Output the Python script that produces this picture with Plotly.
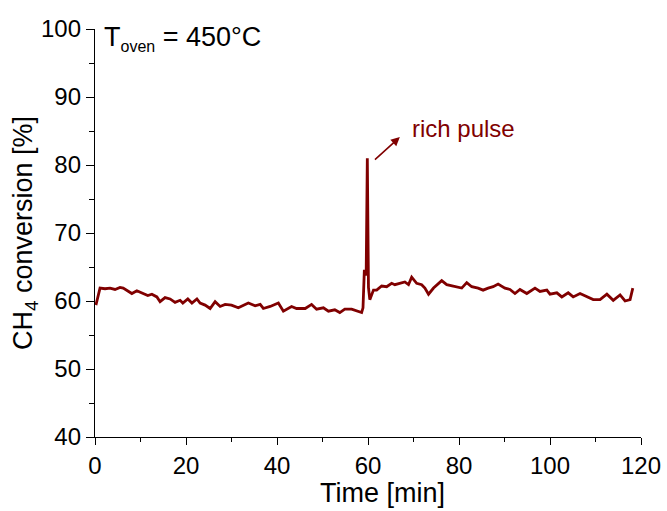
import plotly.graph_objects as go

# Time [min]
time_min = [0.2, 1.1, 2.2, 3.3, 4.4, 5.5, 6.2, 8.1, 9.2, 10.5, 11.6, 12.5, 13.6, 14.3, 15.4,
            16.5, 17.6, 18.7, 19.3, 20.4, 21.3, 22.4, 23.1, 24.2, 25.3, 26.4, 27.5, 28.6,
            30.0, 31.5, 33.7, 35.2, 36.3, 37.0, 38.5, 40.3, 41.4, 43.2, 44.3, 46.2, 47.6,
            48.7, 50.2, 51.3, 52.7, 53.8, 54.9, 56.4, 57.9, 58.6, 58.9, 59.2, 59.45, 59.6,
            59.85, 60.1, 60.4, 61.2, 61.9, 63.0, 64.1, 65.2, 65.9, 67.0, 68.1, 68.9, 69.6,
            70.7, 71.8, 72.5, 73.3, 74.4, 75.5, 76.2, 77.3, 78.4, 79.5, 80.6, 81.7, 82.8,
            84.2, 85.3, 86.4, 87.5, 88.6, 90.1, 91.2, 92.3, 93.4, 94.9, 96.7, 97.8, 99.3,
            100.0, 101.5, 102.6, 104.0, 105.1, 106.6, 108.1, 109.5, 111.0, 112.5, 113.9,
            115.4, 116.5, 117.6, 118.2]

# CH4 conversion [%]
conversion = [59.4, 61.9, 61.8, 61.9, 61.7, 62.0, 61.9, 61.1, 61.5, 61.1, 60.8, 61.0, 60.6, 59.9, 60.5,
              60.3, 59.8, 60.1, 59.7, 60.3, 59.7, 60.3, 59.7, 59.4, 58.9, 59.9, 59.2, 59.5,
              59.4, 59.0, 59.7, 59.3, 59.5, 58.9, 59.2, 59.7, 58.5, 59.2, 58.9, 58.9, 59.5,
              58.8, 59.0, 58.5, 58.7, 58.3, 58.8, 58.8, 58.5, 58.3, 59.0, 64.6, 63.8, 64.0,
              81.0, 62.0, 60.2, 61.6, 61.6, 62.2, 62.1, 62.6, 62.4, 62.6, 62.8, 62.4, 63.5,
              62.6, 62.4, 61.9, 61.0, 61.9, 62.6, 63.0, 62.4, 62.2, 62.1, 61.9, 62.7, 62.1,
              61.9, 61.6, 61.9, 62.1, 62.5, 61.9, 61.7, 61.1, 61.7, 61.1, 61.9, 61.4, 61.6,
              61.0, 61.2, 60.6, 61.2, 60.6, 61.1, 60.6, 60.2, 60.2, 61.0, 60.1,
              60.9, 60.0, 60.2, 61.9]

x_ticks = [0, 20, 40, 60, 80, 100, 120]
y_ticks = [40, 50, 60, 70, 80, 90, 100]

color = "#800000"
font = "Liberation Sans, Arial, sans-serif"

fig = go.Figure()
fig.add_trace(go.Scatter(x=time_min, y=conversion, mode="lines",
                         line=dict(color=color, width=2.8), showlegend=False))

axis_common = dict(showgrid=False, zeroline=False, showline=True, linecolor="black",
                   linewidth=1.3, ticks="outside", tickcolor="black", tickwidth=1.3,
                   tickfont=dict(family=font, size=24, color="black"),
                   mirror=False, automargin=False)

fig.update_xaxes(range=[0, 120], tickvals=x_ticks, ticklen=7,
                 minor=dict(dtick=10, tick0=0, ticks="outside", ticklen=4,
                            tickcolor="black", tickwidth=1.3),
                 **axis_common)
fig.update_yaxes(range=[40, 100], tickvals=y_ticks, ticklen=8,
                 minor=dict(dtick=5, tick0=40, ticks="outside", ticklen=5,
                            tickcolor="black", tickwidth=1.3),
                 title=dict(text="CH<sub>4</sub> conversion [%]",
                            font=dict(family=font, size=27, color="black"), standoff=0),
                 **axis_common)

# x-axis title (placed slightly right of centre, as in the reference)
fig.add_annotation(x=0.526, y=-0.137, xref="paper", yref="paper", xanchor="center",
                   yanchor="middle", text="Time [min]", showarrow=False,
                   font=dict(family=font, size=27, color="black"))

fig.add_annotation(x=1.5, y=98.6, xref="x", yref="y", xanchor="left", yanchor="middle",
                   text="T<sub><span style='font-size:16px'>oven</span></sub> = 450°C",
                   showarrow=False, font=dict(family=font, size=27, color="black"))
fig.add_annotation(x=80.9, y=85.4, xref="x", yref="y", xanchor="center", yanchor="middle",
                   text="rich pulse", showarrow=False,
                   font=dict(family=font, size=24, color=color))
fig.add_annotation(x=67.0, y=84.1, xref="x", yref="y", ax=61.2, ay=80.6, axref="x", ayref="y",
                   text="", showarrow=True, arrowhead=2, arrowsize=1.1, arrowwidth=1.6,
                   arrowcolor=color)

fig.update_layout(width=667, height=511, margin=dict(l=95, r=26, t=29, b=74),
                  plot_bgcolor="white", paper_bgcolor="white")

fig.write_html("out.html")
